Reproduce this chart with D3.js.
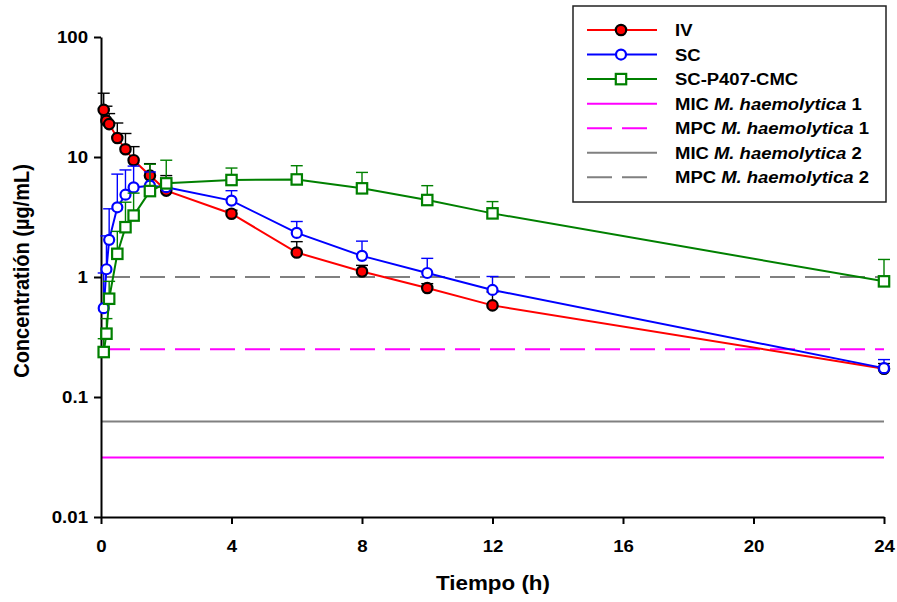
<!DOCTYPE html>
<html>
<head>
<meta charset="utf-8">
<script src="https://cdn.jsdelivr.net/npm/d3@7"></script>
<style>
  html, body { margin: 0; padding: 0; background: #fff; }
  svg { display: block; }
</style>
</head>
<body>
<svg id="chart" width="897" height="602"></svg>
<script>
// Sampling times (h)
const times = [0.083, 0.167, 0.25, 0.5, 0.75, 1, 1.5, 2, 4, 6, 8, 10, 12, 24];

// Mean concentrations (µg/mL) and mean + SD for each formulation
const ivMean  = [24.7, 20.0, 18.8, 14.4, 11.6, 9.4, 7.0, 5.25, 3.37, 1.6, 1.11, 0.81, 0.58, 0.172];
const ivUpper = [34.0, 26.5, 23.0, 19.2, 15.7, 12.2, 8.8, 7.0, 3.6, 1.97, 1.25, 0.88, 0.75, 0.19];

const scMean  = [0.55, 1.16, 2.04, 3.81, 4.85, 5.58, 5.77, 5.6, 4.33, 2.33, 1.50, 1.08, 0.78, 0.174];
const scUpper = [1.08, 2.2, 3.7, 7.2, 7.8, 8.4, 7.5, 6.2, 5.24, 2.9, 1.99, 1.43, 1.01, 0.205];

const gelMean  = [0.237, 0.337, 0.659, 1.56, 2.6, 3.25, 5.2, 6.03, 6.43, 6.5, 5.48, 4.38, 3.39, 0.92];
const gelUpper = [0.306, 0.45, 0.92, 2.4, 4.2, 5.0, 8.7, 9.4, 8.09, 8.46, 7.44, 5.77, 4.25, 1.4];

const seriesNames = ["IV", "SC", "SC-P407-CMC"];

// MIC / MPC thresholds (µg/mL)
const refPrefixes = ["MIC", "MPC", "MIC", "MPC"];
const refStrain   = ["1", "1", "2", "2"];
const refValues   = [0.03125, 0.25, 0.0625, 1];

// Axis ticks
const xTicks = [0, 4, 8, 12, 16, 20, 24];
const yTicks = [0.01, 0.1, 1, 10, 100];
const yTickLabels = ["0.01", "0.1", "1", "10", "100"];

const FONT = "'Liberation Sans', Arial, Helvetica, sans-serif";
const SX = 1.12; // horizontal text stretch

const svg = d3.select("#chart");

const x = d3.scaleLinear().domain([0, 24]).range([101, 884]);
const y = d3.scaleLog().domain([0.01, 100]).range([517, 37]);

// ---- threshold lines ----
const refStyles = [
  { color: "#ff00ff", dash: null },
  { color: "#ff00ff", dash: "25,10" },
  { color: "#808080", dash: null },
  { color: "#808080", dash: "25,10" }
];

const refG = svg.append("g");
refValues.forEach((v, i) => {
  refG.append("line")
    .attr("x1", x(0)).attr("x2", x(24))
    .attr("y1", y(v)).attr("y2", y(v))
    .attr("stroke", refStyles[i].color)
    .attr("stroke-width", 2)
    .attr("stroke-dasharray", refStyles[i].dash)
    .attr("stroke-dashoffset", refStyles[i].dash ? 31 : null);
});

// ---- axes ----
const yAxis = d3.axisLeft(y)
  .tickValues(yTicks)
  .tickFormat((d, i) => yTickLabels[i])
  .tickSize(7).tickSizeOuter(0).tickPadding(6);

const xAxis = d3.axisBottom(x)
  .tickValues(xTicks)
  .tickFormat(d3.format("d"))
  .tickSize(7).tickSizeOuter(0).tickPadding(16);

const gy = svg.append("g").attr("transform", `translate(${x(0)},0)`).call(yAxis);
const gx = svg.append("g").attr("transform", `translate(0,${y(0.01)})`).call(xAxis);

[gy, gx].forEach(g => {
  g.attr("font-family", FONT).attr("font-size", 16.5).attr("font-weight", "bold");
  g.select(".domain").attr("stroke", "#000").attr("stroke-width", 2);
  g.selectAll(".tick line").attr("stroke", "#000").attr("stroke-width", 2);
  g.selectAll(".tick text").attr("fill", "#000");
});
gy.selectAll(".tick text").each(function () {
  const t = d3.select(this);
  const tx = +t.attr("x");
  t.attr("x", 0).attr("transform", `translate(${tx},0) scale(1.13,1)`);
});
gx.selectAll(".tick text").attr("transform", "scale(1.13,1)");

// ---- axis titles ----
svg.append("text")
  .attr("transform", `translate(493,590) scale(${SX},1)`)
  .attr("text-anchor", "middle")
  .attr("font-family", FONT).attr("font-weight", "bold").attr("font-size", 20)
  .text("Tiempo (h)");

svg.append("text")
  .attr("transform", `translate(29,271) scale(${SX},1) rotate(-90)`)
  .attr("text-anchor", "middle")
  .attr("font-family", FONT).attr("font-weight", "bold").attr("font-size", 20)
  .text("Concentratión (µg/mL)");

// ---- data series ----
const series = [
  { name: seriesNames[0], mean: ivMean,  upper: ivUpper,  line: "#ff0000", err: "#000000", shape: "circle", fill: "#ff0000", stroke: "#000000", r: 5.2, sw: 2.2 },
  { name: seriesNames[1], mean: scMean,  upper: scUpper,  line: "#0000ff", err: "#0000ff", shape: "circle", fill: "#ffffff", stroke: "#0000ff", r: 5, sw: 2.2 },
  { name: seriesNames[2], mean: gelMean, upper: gelUpper, line: "#008000", err: "#008000", shape: "square", fill: "#ffffff", stroke: "#008000", r: 5.2, sw: 2.2 }
];

const lineGen = d3.line().x(d => x(d.t)).y(d => y(d.v));

function drawMarker(g, s, cx, cy) {
  if (s.shape === "circle") {
    g.append("circle").attr("cx", cx).attr("cy", cy).attr("r", s.r)
      .attr("fill", s.fill).attr("stroke", s.stroke).attr("stroke-width", s.sw);
  } else {
    g.append("rect").attr("x", cx - s.r).attr("y", cy - s.r)
      .attr("width", 2 * s.r).attr("height", 2 * s.r)
      .attr("fill", s.fill).attr("stroke", s.stroke).attr("stroke-width", s.sw);
  }
}

series.forEach(s => {
  const pts = times.map((t, i) => ({ t, v: s.mean[i], u: s.upper[i] }));
  const g = svg.append("g");
  g.append("path").datum(pts).attr("d", lineGen)
    .attr("fill", "none").attr("stroke", s.line).attr("stroke-width", 2);
  const eg = g.append("g").attr("stroke", s.err).attr("stroke-width", 1.4);
  pts.forEach(p => {
    eg.append("line").attr("x1", x(p.t)).attr("x2", x(p.t))
      .attr("y1", y(p.v)).attr("y2", y(p.u));
    eg.append("line").attr("x1", x(p.t) - 6).attr("x2", x(p.t) + 6)
      .attr("y1", y(p.u)).attr("y2", y(p.u));
  });
  pts.forEach(p => drawMarker(g, s, x(p.t), y(p.v)));
});

// ---- legend ----
const legend = svg.append("g");
legend.append("rect")
  .attr("x", 573).attr("y", 6).attr("width", 313).attr("height", 196)
  .attr("fill", "#fff").attr("stroke", "#222").attr("stroke-width", 1.5);

const rowY = i => 30 + i * 24.55;
const lx1 = 587, lx2 = 657, lmid = 621, tx = 675;

function legendText(i) {
  return legend.append("text")
    .attr("transform", `translate(${tx},${rowY(i) + 6}) scale(1.1,1)`)
    .attr("font-family", FONT).attr("font-weight", "bold").attr("font-size", 16.8)
    .attr("fill", "#000");
}

series.forEach((s, i) => {
  legend.append("line").attr("x1", lx1).attr("x2", lx2)
    .attr("y1", rowY(i)).attr("y2", rowY(i))
    .attr("stroke", s.line).attr("stroke-width", 2);
  drawMarker(legend, s, lmid, rowY(i));
  legendText(i).text(s.name);
});

refValues.forEach((v, k) => {
  const i = k + 3;
  legend.append("line").attr("x1", lx1).attr("x2", lx2)
    .attr("y1", rowY(i)).attr("y2", rowY(i))
    .attr("stroke", refStyles[k].color).attr("stroke-width", 2)
    .attr("stroke-dasharray", refStyles[k].dash);
  const t = legendText(i);
  t.append("tspan").text(refPrefixes[k] + " ");
  t.append("tspan").attr("font-style", "italic").text("M. haemolytica");
  t.append("tspan").text(" " + refStrain[k]);
});
</script>
</body>
</html>
